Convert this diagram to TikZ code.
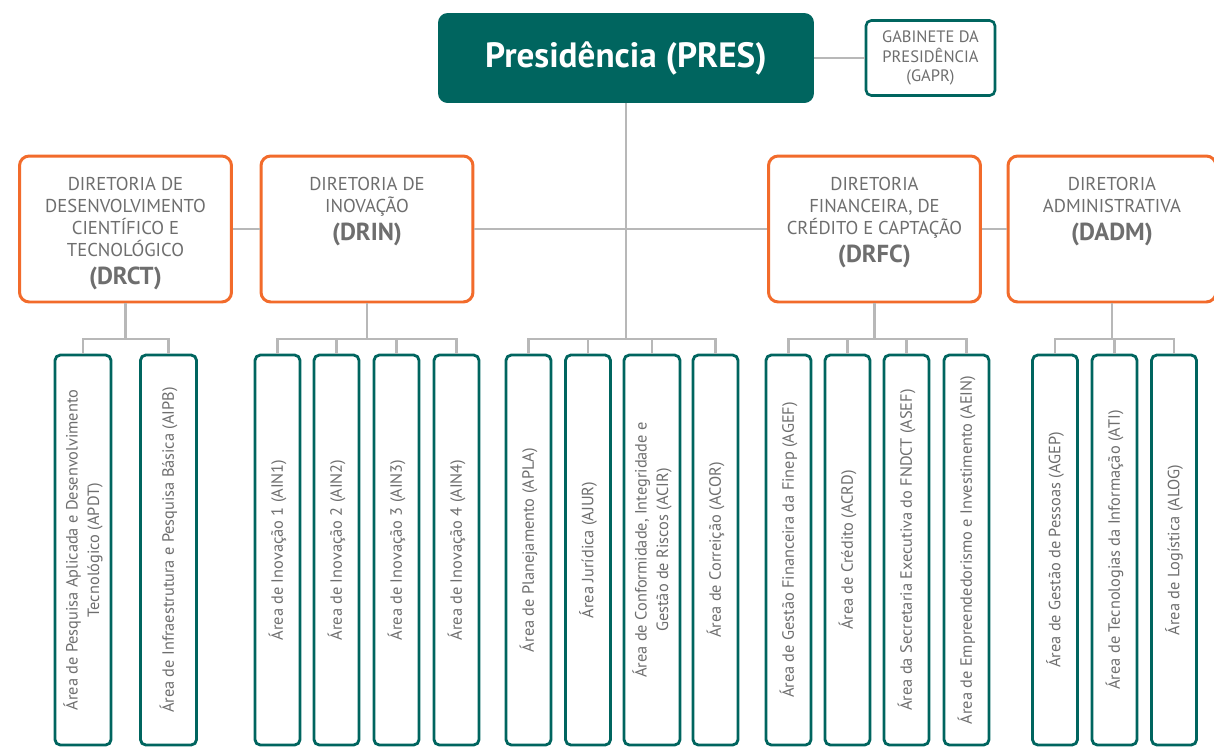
\documentclass[tikz,border=0pt]{standalone}
\usepackage{fontspec}
\setmainfont{PT Sans}
\usepackage{tikz}
\definecolor{presteal}{rgb}{0.0, 0.396, 0.373}
\definecolor{dirorange}{rgb}{0.95, 0.42, 0.17}
\definecolor{linegray}{rgb}{0.72, 0.72, 0.72}
\definecolor{textgray}{rgb}{0.43, 0.43, 0.43}

\newcommand{\dirtext}[2]{\parbox[c][2.92cm][t]{3.9cm}{\centering\vspace*{0.42cm}#1\\[3.5pt]{\fontsize{14}{14}\selectfont\bfseries #2}}}
\newcommand{\areatext}[1]{\rotatebox{90}{\parbox{7.4cm}{\centering #1}}}

\begin{document}
\begin{tikzpicture}[x=0.02cm, y=-0.02cm,
  conn/.style={draw=linegray, line width=1.3pt},
  presbox/.style={fill=presteal, rounded corners=5.5pt, minimum width=7.52cm, minimum height=1.8cm, text=white, font=\fontsize{20}{24}\selectfont\bfseries},
  gabbox/.style={draw=presteal, line width=1.5pt, fill=white, rounded corners=3pt, minimum width=2.58cm, minimum height=1.5cm, align=center, text=textgray, font=\fontsize{9.4}{11.3}\selectfont},
  dirbox/.style={draw=dirorange, line width=1.7pt, fill=white, rounded corners=5.5pt, inner sep=0pt, minimum width=4.24cm, minimum height=2.92cm, text=textgray, font=\fontsize{10.6}{12.6}\selectfont},
  areabox/.style={draw=presteal, line width=1.6pt, fill=white, rounded corners=3pt, inner sep=0pt, minimum width=0.9cm, minimum height=7.8cm, text=textgray, font=\fontsize{9.3}{12.3}\selectfont},
  widearea/.style={areabox, minimum width=1.12cm}]
\useasboundingbox (0,0) rectangle (1214,748);
% presidency
\node[presbox] (pres) at (626,58) {Presidência (PRES)};
\node[gabbox] (gapr) at (930.5,58) {GABINETE DA\\PRESIDÊNCIA\\(GAPR)};
\draw[conn] (pres) -- (gapr);
% directorates
\node[dirbox] (drct) at (125.5,229) {\dirtext{DIRETORIA DE\\DESENVOLVIMENTO\\CIENTÍFICO E\\TECNOLÓGICO}{(DRCT)}};
\node[dirbox] (drin) at (367,229) {\dirtext{DIRETORIA DE\\INOVAÇÃO}{(DRIN)}};
\node[dirbox] (drfc) at (874.5,229) {\dirtext{DIRETORIA\\FINANCEIRA, DE\\CRÉDITO E CAPTAÇÃO}{(DRFC)}};
\node[dirbox, minimum width=4.16cm] (dadm) at (1112,229) {\dirtext{DIRETORIA\\ADMINISTRATIVA}{(DADM)}};
\draw[conn] (drct) -- (drin);
\draw[conn] (drin) -- (drfc);
\draw[conn] (drfc) -- (dadm);
% junctions
\coordinate (pres-j) at (626,339);
\coordinate (drct-j) at (125.5,339);
\coordinate (drin-j) at (367,339);
\coordinate (drfc-j) at (874.5,339);
\coordinate (dadm-j) at (1112,339);
\draw[conn] (pres) -- (pres-j);
\draw[conn] (drct) -- (drct-j);
\draw[conn] (drin) -- (drin-j);
\draw[conn] (drfc) -- (drfc-j);
\draw[conn] (dadm) -- (dadm-j);

% DRCT areas
\node[widearea] (apdt) at (83,550) {\areatext{Área de Pesquisa Aplicada e Desenvolvimento\\Tecnológico (APDT)}};
\node[widearea] (aipb) at (168.5,550) {\areatext{Área de Infraestrutura e Pesquisa Básica (AIPB)}};
\draw[conn] (apdt) |- (drct-j) -| (aipb);
% DRIN areas
\node[areabox] (ain1) at (277.5,550) {\areatext{Área de Inovação 1 (AIN1)}};
\node[areabox] (ain2) at (336.5,550) {\areatext{Área de Inovação 2 (AIN2)}};
\node[areabox] (ain3) at (396.5,550) {\areatext{Área de Inovação 3 (AIN3)}};
\node[areabox] (ain4) at (456.5,550) {\areatext{Área de Inovação 4 (AIN4)}};
\draw[conn] (ain1) |- (drin-j) -| (ain4);
\draw[conn] (ain2) -- (ain2 |- drin-j);
\draw[conn] (ain3) -- (ain3 |- drin-j);
% PRES areas
\node[areabox] (apla) at (528.5,550) {\areatext{Área de Planejamento (APLA)}};
\node[areabox] (ajur) at (588,550) {\areatext{Área Jurídica (AJUR)}};
\node[widearea] (acir) at (652,550) {\areatext{Área de Conformidade, Integridade e\\Gestão de Riscos (ACIR)}};
\node[areabox] (acor) at (715.5,550) {\areatext{Área de Correição (ACOR)}};
\draw[conn] (apla) |- (pres-j) -| (acor);
\draw[conn] (ajur) -- (ajur |- pres-j);
\draw[conn] (acir) -- (acir |- pres-j);
% DRFC areas
\node[areabox] (agef) at (788.5,550) {\areatext{Área de Gestão Financeira da Finep (AGEF)}};
\node[areabox] (acrd) at (847.5,550) {\areatext{Área de Crédito (ACRD)}};
\node[areabox] (asef) at (906.5,550) {\areatext{Área da Secretaria Executiva do FNDCT (ASEF)}};
\node[areabox] (aein) at (966.5,550) {\areatext{Área de Empreendedorismo e Investimento (AEIN)}};
\draw[conn] (agef) |- (drfc-j) -| (aein);
\draw[conn] (acrd) -- (acrd |- drfc-j);
\draw[conn] (asef) -- (asef |- drfc-j);
% DADM areas
\node[areabox] (agep) at (1055,550) {\areatext{Área de Gestão de Pessoas (AGEP)}};
\node[areabox] (ati) at (1114.5,550) {\areatext{Área de Tecnologias da Informação (ATI)}};
\node[areabox] (alog) at (1174,550) {\areatext{Área de Logística (ALOG)}};
\draw[conn] (agep) |- (dadm-j) -| (alog);
\draw[conn] (ati) -- (ati |- dadm-j);
\end{tikzpicture}
\end{document}
